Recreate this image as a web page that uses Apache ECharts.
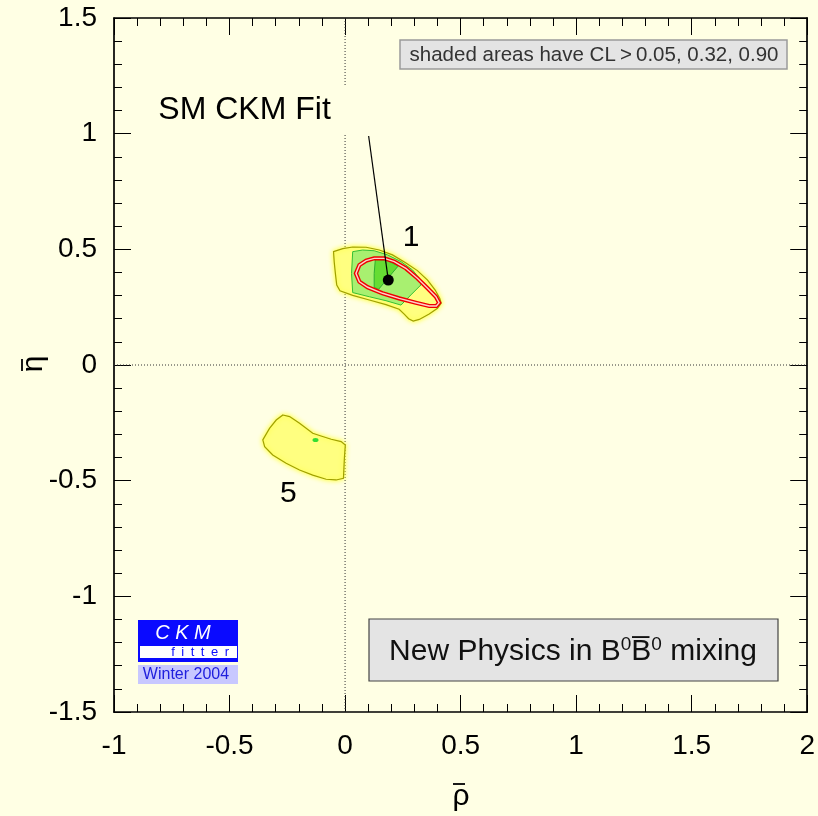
<!DOCTYPE html>
<html>
<head>
<meta charset="utf-8">
<script src="https://cdn.jsdelivr.net/npm/echarts@6/dist/echarts.min.js"></script>
<style>
  html, body { margin: 0; padding: 0; background: #ffffe4; }
  #chart { width: 818px; height: 816px; }
</style>
</head>
<body>
<div id="chart"></div>
<script>
// Axis ticks
const xTicks = [-1, -0.5, 0, 0.5, 1, 1.5, 2];
const yTicks = [-1.5, -1, -0.5, 0, 0.5, 1, 1.5];

// Allowed region around the SM solution: CL > 0.05 (outer), 0.32, 0.90
const regionA05 = [
  [-0.050, 0.490], [-0.010, 0.503], [0.033, 0.510], [0.091, 0.509], [0.148, 0.497],
  [0.205, 0.476], [0.262, 0.442], [0.313, 0.408], [0.357, 0.367], [0.390, 0.324],
  [0.410, 0.288], [0.416, 0.267], [0.400, 0.245], [0.364, 0.220], [0.321, 0.197],
  [0.295, 0.190], [0.275, 0.200], [0.256, 0.220], [0.234, 0.241], [0.177, 0.261],
  [0.105, 0.281], [0.033, 0.301], [-0.022, 0.321], [-0.036, 0.346], [-0.042, 0.396],
  [-0.047, 0.446]
];
const regionA32 = [
  [0.033, 0.490], [0.076, 0.497], [0.126, 0.494], [0.184, 0.476], [0.242, 0.447],
  [0.292, 0.411], [0.321, 0.375], [0.328, 0.346], [0.285, 0.303], [0.242, 0.259],
  [0.177, 0.278], [0.105, 0.295], [0.033, 0.313], [0.028, 0.396]
];
const regionA90 = [
  [0.131, 0.457], [0.184, 0.451], [0.230, 0.428], [0.191, 0.382], [0.145, 0.327],
  [0.126, 0.336], [0.126, 0.396]
];
// Second (mirror) solution, CL > 0.05
const regionB05 = [
  [-0.269, -0.216], [-0.240, -0.223], [-0.197, -0.252], [-0.140, -0.295], [-0.104, -0.307],
  [-0.060, -0.321], [-0.017, -0.331], [0.001, -0.346], [-0.003, -0.403], [-0.007, -0.490],
  [-0.039, -0.497], [-0.082, -0.494], [-0.140, -0.476], [-0.197, -0.454], [-0.255, -0.425],
  [-0.313, -0.389], [-0.348, -0.353], [-0.356, -0.324], [-0.327, -0.274], [-0.298, -0.238]
];
const regionBspot = [[-0.128, -0.324]];
// Standard Model CKM fit contour and best fit point
const smContour = [
  [0.047, 0.396], [0.062, 0.432], [0.091, 0.451], [0.126, 0.461], [0.170, 0.461],
  [0.213, 0.447], [0.263, 0.418], [0.313, 0.375], [0.357, 0.332], [0.393, 0.295],
  [0.407, 0.269], [0.395, 0.255], [0.364, 0.255], [0.306, 0.269], [0.234, 0.288],
  [0.162, 0.310], [0.098, 0.336], [0.062, 0.360]
];
const smBest = [0.187, 0.367];
const smLabelPos = [-0.435, 1.102];
const smPointerStart = [0.102, 0.990];
const solutionLabels = [
  { name: '1', value: [0.286, 0.549] },
  { name: '5', value: [-0.245, -0.558] }
];

const BG = '#ffffe4';
const FONT = '"Liberation Sans", Arial, Helvetica, sans-serif';

function polygonSeries(points, style, z) {
  return {
    type: 'custom',
    coordinateSystem: 'cartesian2d',
    silent: true,
    z: z,
    data: [points[0]],
    renderItem: function (params, api) {
      return {
        type: 'polygon',
        shape: { points: points.map(function (p) { return api.coord(p); }) },
        style: style
      };
    }
  };
}

function frameAxis(isX, position, showLabels, ticks) {
  return {
    type: 'value',
    position: position,
    min: ticks[0],
    max: ticks[ticks.length - 1],
    interval: 0.5,
    axisLine: { show: true, onZero: false, lineStyle: { color: '#000', width: 1.7 } },
    axisTick: { show: true, inside: true, length: 17, lineStyle: { color: '#000', width: 1 } },
    minorTick: { show: true, splitNumber: 5, length: 8, lineStyle: { color: '#000', width: 1 } },
    splitLine: { show: false },
    axisLabel: {
      show: showLabels,
      fontSize: 28,
      color: '#000',
      fontFamily: FONT,
      margin: isX ? 20 : 17,
      formatter: function (v) { return String(v); }
    }
  };
}

const chart = echarts.init(document.getElementById('chart'), null, { renderer: 'canvas' });

const option = {
  backgroundColor: BG,
  animation: false,
  grid: { left: 114, right: 9, top: 18, bottom: 104, containLabel: false },
  xAxis: [frameAxis(true, 'bottom', true, xTicks), frameAxis(true, 'top', false, xTicks)],
  yAxis: [frameAxis(false, 'left', true, yTicks), frameAxis(false, 'right', false, yTicks)],
  series: [
    // dotted reference lines through the origin
    {
      type: 'line', silent: true, z: 1, symbol: 'none',
      data: [[0, yTicks[0]], [0, yTicks[yTicks.length - 1]]],
      lineStyle: { color: '#333', width: 1, type: [1, 2] }
    },
    {
      type: 'line', silent: true, z: 1, symbol: 'none',
      data: [[xTicks[0], 0], [xTicks[xTicks.length - 1], 0]],
      lineStyle: { color: '#333', width: 1, type: [1, 2] }
    },
    polygonSeries(regionA05, { fill: '#ffff80', stroke: '#a0a000', lineWidth: 1.2, shadowBlur: 5, shadowColor: '#ffff20' }, 2),
    polygonSeries(regionB05, { fill: '#ffff80', stroke: '#a0a000', lineWidth: 1.2, shadowBlur: 5, shadowColor: '#ffff20' }, 2),
    polygonSeries(regionA32, { fill: '#a8f070', stroke: '#33c033', lineWidth: 1 }, 3),
    polygonSeries(regionA90, { fill: '#66dd33', stroke: '#2fb02f', lineWidth: 1 }, 4),
    {
      type: 'scatter', silent: true, z: 4, symbol: 'circle', symbolSize: [6, 4],
      itemStyle: { color: '#33dd33', opacity: 1 },
      data: regionBspot
    },
    // SM fit contour drawn as a double red line
    polygonSeries(smContour, { fill: null, stroke: '#ee0000', lineWidth: 4.2 }, 5),
    polygonSeries(smContour, { fill: null, stroke: '#ffd0c8', lineWidth: 1.4 }, 6),
    {
      type: 'line', silent: true, z: 7, symbol: 'none',
      data: [smPointerStart, smBest],
      lineStyle: { color: '#000', width: 1.2 }
    },
    {
      type: 'scatter', silent: true, z: 8, symbol: 'circle', symbolSize: 11,
      itemStyle: { color: '#000', opacity: 1 },
      data: [smBest]
    },
    {
      type: 'scatter', silent: true, z: 9, symbolSize: 0,
      itemStyle: { opacity: 1 },
      data: [{ name: 'SM CKM Fit', value: smLabelPos }],
      label: {
        show: true, position: 'inside', formatter: '{b}',
        fontSize: 32, fontFamily: FONT, color: '#000', opacity: 1,
        backgroundColor: BG, padding: [8, 16]
      }
    },
    {
      type: 'scatter', silent: true, z: 9, symbolSize: 0,
      itemStyle: { opacity: 1 },
      data: solutionLabels,
      label: {
        show: true, position: 'inside', formatter: '{b}',
        fontSize: 30, fontFamily: FONT, color: '#000', opacity: 1
      }
    }
  ],
  graphic: [
    // axis titles: rho-bar and eta-bar
    {
      type: 'group', x: 461, y: 797,
      children: [
        { type: 'text', style: { text: '\u03C1', font: '30px ' + FONT, fill: '#000', align: 'center', verticalAlign: 'middle' } },
        { type: 'line', shape: { x1: -8, y1: -13, x2: 4, y2: -13 }, style: { stroke: '#000', lineWidth: 1.8 } }
      ]
    },
    {
      type: 'group', x: 34, y: 364, rotation: Math.PI / 2,
      children: [
        { type: 'text', style: { text: '\u03B7', font: '30px ' + FONT, fill: '#000', align: 'center', verticalAlign: 'middle' } },
        { type: 'line', shape: { x1: -7, y1: -12, x2: 5, y2: -12 }, style: { stroke: '#000', lineWidth: 1.8 } }
      ]
    },
    // confidence level legend box
    {
      type: 'rect', z: 20,
      shape: { x: 400, y: 40, width: 387, height: 29 },
      style: { fill: '#e4e4e4', stroke: '#9a9a9a', lineWidth: 1.5 }
    },
    {
      type: 'text', z: 21, x: 594, y: 55,
      style: {
        text: 'shaded areas have CL\u2009>\u20090.05, 0.32, 0.90',
        font: '20.5px ' + FONT, fill: '#333', align: 'center', verticalAlign: 'middle'
      }
    },
    // scenario box
    {
      type: 'rect', z: 20,
      shape: { x: 369, y: 619, width: 409, height: 62 },
      style: { fill: '#e4e4e4', stroke: '#444', lineWidth: 1.2 }
    },
    {
      type: 'text', z: 21, x: 573, y: 652,
      style: {
        text: 'New Physics in B{s|0}B\u0305{s|0} mixing',
        font: '30px ' + FONT, fill: '#111', align: 'center', verticalAlign: 'middle',
        rich: {
          s: { fontSize: 19, fontFamily: FONT, fill: '#111', verticalAlign: 'bottom', padding: [0, 0, 15, 0] }
        }
      }
    },
    // CKMfitter logo
    {
      type: 'rect', z: 20,
      shape: { x: 138, y: 620, width: 100, height: 42 },
      style: { fill: '#0a0aff' }
    },
    {
      type: 'rect', z: 21,
      shape: { x: 140, y: 646, width: 97, height: 12 },
      style: { fill: '#ffffff' }
    },
    {
      type: 'text', z: 22, x: 183, y: 633,
      style: {
        text: 'C K M', font: 'italic 20px ' + FONT, fill: '#ffffff',
        align: 'center', verticalAlign: 'middle'
      }
    },
    {
      type: 'text', z: 22, x: 229, y: 652,
      style: {
        text: 'f\u2002i\u2002t\u2002t\u2002e\u2002r', font: '13px ' + FONT, fill: '#0a0aff',
        align: 'right', verticalAlign: 'middle'
      }
    },
    {
      type: 'rect', z: 20,
      shape: { x: 138, y: 665, width: 100, height: 19 },
      style: { fill: '#c8c8ff' }
    },
    {
      type: 'text', z: 22, x: 186, y: 675,
      style: {
        text: 'Winter 2004', font: '16px ' + FONT, fill: '#2020dd',
        align: 'center', verticalAlign: 'middle'
      }
    }
  ]
};

chart.setOption(option);
</script>
</body>
</html>
